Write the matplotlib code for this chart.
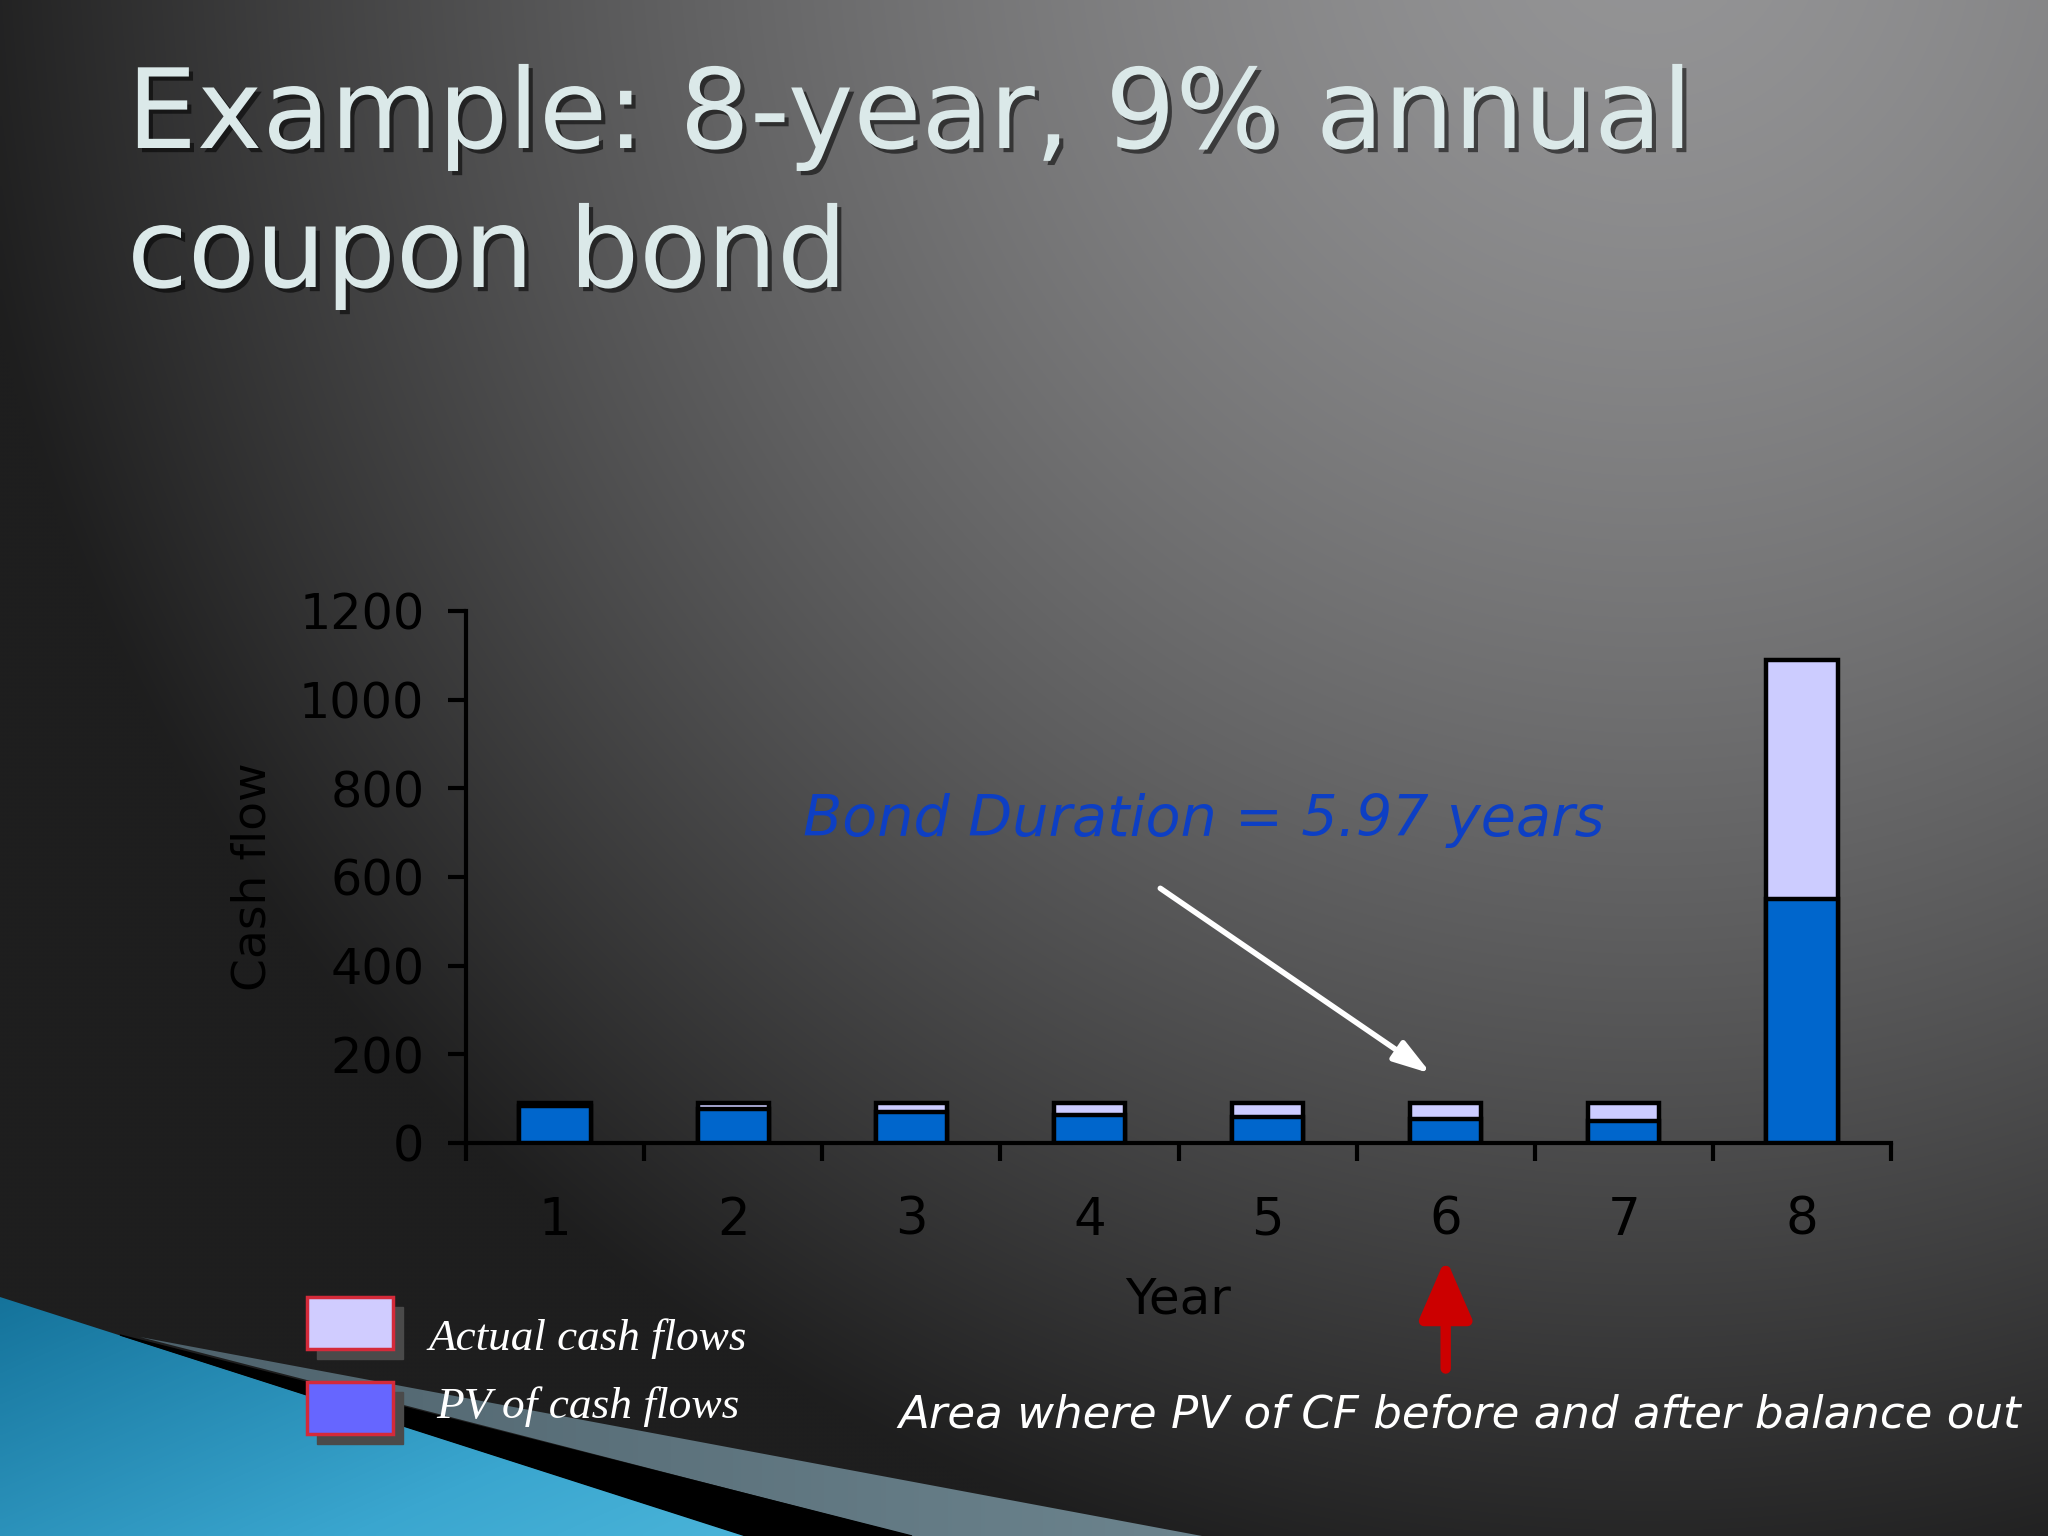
import numpy as np
import matplotlib
matplotlib.use("Agg")
import matplotlib.pyplot as plt
import matplotlib.patheffects as pe
from matplotlib.patches import Polygon, Rectangle
from matplotlib.colors import LinearSegmentedColormap

years = [1, 2, 3, 4, 5, 6, 7, 8]
actual_cf = [90, 90, 90, 90, 90, 90, 90, 1090]   # coupon 90, last year + face 1000
pv_cf = [83, 76, 69, 63, 58, 54, 49, 550]
y_ticks = [0, 200, 400, 600, 800, 1000, 1200]

title_lines = ["Example: 8-year, 9% annual", "coupon bond"]
duration_txt = "Bond Duration = 5.97 years"
note_txt = "Area where PV of CF before and after balance out"
legend_txt = ["Actual cash flows", "PV of cash flows"]

plt.rcParams["font.family"] = "DejaVu Sans"

W, H = 2048, 1536
fig = plt.figure(figsize=(W / 100, H / 100), dpi=100)
renderer = fig.canvas.get_renderer()


def fit_width(t, target_px):
    # scale the font so the text spans the same width as on the slide
    w = t.get_window_extent(renderer).width
    t.set_fontsize(t.get_fontsize() * target_px / w)


# slide background (pixel coords, y down)
bg = fig.add_axes([0, 0, 1, 1], zorder=-5)
bg.set_xlim(0, W)
bg.set_ylim(H, 0)
bg.axis("off")

gx, gy = np.meshgrid(np.linspace(0, W, 512), np.linspace(0, H, 384))
d = np.clip(np.hypot(gx - 1650, gy + 80) / 1700, 0, 1)
v = (148 - 118 * d ** 1.5) / 255
img = np.dstack([v, v, v * 1.01])
bg.imshow(np.clip(img, 0, 1), extent=[0, W, H, 0], aspect="auto", interpolation="bilinear")

# teal swoosh, bottom left
cyan = LinearSegmentedColormap.from_list("cy", ["#14729a", "#3aa6cf", "#5cc4e4"])
t = (gx / 900 + (gy - 1290) / 400) / 2
cim = bg.imshow(np.clip(t, 0, 1), cmap=cyan, extent=[0, W, H, 0], aspect="auto",
                interpolation="bilinear", vmin=0, vmax=1)
cpoly = Polygon([(0, 1297), (746, 1536), (0, 1536)], closed=True, transform=bg.transData)
cim.set_clip_path(cpoly)
bg.add_patch(Polygon([(120, 1335), (912, 1536), (746, 1536)], closed=True, color="black"))
grey = LinearSegmentedColormap.from_list("gr", ["#4e626c", "#6c848e"])
gim = bg.imshow(np.clip((gx - 140) / 1060, 0, 1), cmap=grey, extent=[0, W, H, 0],
                aspect="auto", interpolation="bilinear", vmin=0, vmax=1)
gim.set_clip_path(Polygon([(140, 1337), (1202, 1536), (912, 1536)], closed=True,
                          transform=bg.transData))

# legend drawn as on the slide
leg_cols = ["#d0ccff", "#6666ff"]
leg_x = [428, 436]
leg_base = [1350, 1418]
leg_w = [319, 303]
for i, (lab, col) in enumerate(zip(legend_txt, leg_cols)):
    y0 = 1297 + i * 85
    bg.add_patch(Rectangle((317, y0 + 10), 86, 52, color="#4a4a4a"))
    bg.add_patch(Rectangle((307, y0), 86, 52, facecolor=col, edgecolor="#d42a3a", lw=2.5))
    tl = bg.text(leg_x[i], leg_base[i], lab, color="white", fontsize=32, style="italic",
                 family="Liberation Serif", va="baseline", ha="left")
    fit_width(tl, leg_w[i])

# title
shadow = [pe.SimplePatchShadow(offset=(3, -3), shadow_rgbFace="black", alpha=0.55), pe.Normal()]
tt = []
for i, line in enumerate(title_lines):
    tt.append(fig.text(127 / W, 1 - (148 + 139 * i) / H, line, fontsize=78, color="#dbe9e9",
                       va="baseline", ha="left", path_effects=shadow))
fit_width(tt[0], 1567)
tt[1].set_fontsize(tt[0].get_fontsize())

# chart
ax = fig.add_axes([466 / W, 1 - 1143 / H, (1891 - 466) / W, (1143 - 611) / H])
ax.patch.set_alpha(0)
ax.bar(years, actual_cf, width=0.4, color="#ccccff", edgecolor="black", lw=3.2, zorder=2)
ax.bar(years, pv_cf, width=0.4, color="#0066cc", edgecolor="black", lw=3.2, zorder=3)

ax.set_xlim(0.5, 8.5)
ax.set_ylim(0, 1200)
ax.set_yticks(y_ticks)
ax.set_xticks(years)
ax.set_xticks(np.arange(0.5, 9, 1), minor=True)
for s in ["top", "right"]:
    ax.spines[s].set_visible(False)
for s in ["left", "bottom"]:
    ax.spines[s].set_linewidth(3)
    ax.spines[s].set_color("black")
ax.tick_params(axis="y", direction="out", length=13, width=3, pad=17, labelsize=35.5)
ax.tick_params(axis="x", which="major", length=0, pad=38, labelsize=37)
ax.tick_params(axis="x", which="minor", direction="out", length=13, width=3)

ax.set_xlabel("Year", fontsize=36, va="top")
ax.xaxis.set_label_coords(0.5, -0.25)
ax.set_ylabel("Cash flow", fontsize=34)
ax.yaxis.set_label_coords(-0.134, 0.5)

dt = ax.text(4.64, 693, duration_txt, color="#0d3fc4", fontsize=40, style="italic",
             ha="center", va="baseline")
fit_width(dt, 801)
ax.annotate("", xy=(5.93, 153), xytext=(4.385, 578),
            arrowprops=dict(arrowstyle="-|>,head_length=1.6,head_width=0.5",
                            color="white", lw=4, mutation_scale=14, capstyle="round"))
ax.annotate("", xy=(6, -253), xytext=(6, -515), annotation_clip=False,
            arrowprops=dict(arrowstyle="-|>,head_length=3.0,head_width=1.3",
                            color="#cc0000", lw=7.5, mutation_scale=12, capstyle="round"))

nt = fig.text(898 / W, 1 - 1428 / H, note_txt, color="white", fontsize=32, style="italic",
              ha="left", va="baseline")
fit_width(nt, 1125)

fig.savefig("out.png", dpi=100)
